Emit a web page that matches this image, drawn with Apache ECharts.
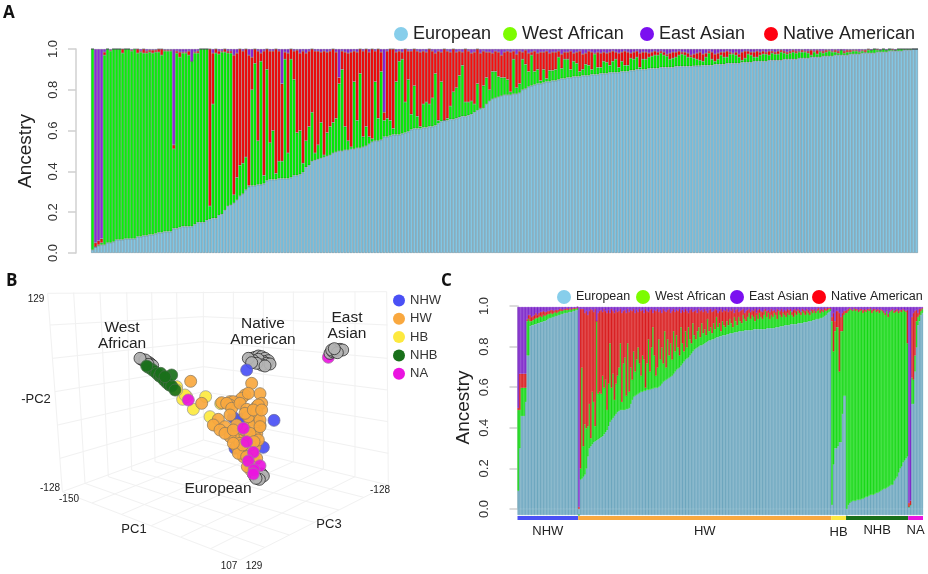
<!DOCTYPE html>
<html><head><meta charset="utf-8">
<style>html,body{margin:0;padding:0;background:#fff}#c{width:928px;height:574px}</style>
<script src="https://cdn.jsdelivr.net/npm/echarts@6/dist/echarts.min.js"></script>
</head><body><div id="c"></div>
<script>
// Panel A: top edge of each stacked band, per individual
const euroA=[.015,.03,.035,.04,.04,.05,.05,.055,.065,.065,.065,.07,.07,.07,.07,.08,.08,.085,.085,.09,.09,.095,.10,.10,.105,
.105,.105,.12,.12,.125,.13,.13,.13,.13,.14,.15,.15,.15,.16,.165,.17,.17,.185,.19,.21,.23,.235,.245,.26,.28,
.29,.31,.325,.33,.33,.335,.335,.34,.355,.36,.36,.36,.365,.365,.365,.365,.37,.38,.38,.385,.395,.42,.43,.45,.455,
.46,.465,.47,.475,.48,.49,.495,.50,.50,.505,.505,.51,.51,.515,.515,.52,.525,.535,.545,.55,.55,.555,.57,.57,.575,
.58,.58,.58,.585,.59,.595,.605,.61,.61,.61,.615,.615,.62,.62,.625,.635,.645,.65,.65,.655,.655,.66,.665,.67,.67,
.675,.68,.69,.70,.705,.71,.73,.745,.755,.76,.765,.77,.775,.775,.775,.78,.78,.785,.80,.805,.815,.82,.825,.83,.83,
.835,.84,.84,.845,.845,.85,.855,.855,.86,.86,.865,.865,.865,.87,.87,.87,.875,.875,.875,.88,.88,.88,.885,.885,.885,
.885,.89,.89,.89,.895,.895,.90,.90,.90,.90,.905,.905,.905,.905,.91,.91,.91,.91,.91,.915,.915,.915,.915,.915,.915,
.917,.918,.918,.92,.92,.92,.92,.925,.925,.925,.925,.93,.93,.93,.93,.93,.935,.935,.935,.935,.94,.94,.94,.94,.94,
.945,.945,.945,.945,.945,.95,.95,.95,.95,.95,.955,.955,.955,.955,.96,.96,.96,.96,.965,.965,.965,.965,.97,.97,.97,
.97,.97,.975,.975,.975,.975,.98,.98,.98,.98,.98,.985,.985,.985,.985,.99,.99,.99,.99,.99,.995,.995,.995,1,1];
const westTopA=[1,.03,.04,.05,.97,1,.99,1,1,1,.98,1,1,.99,1,.98,.985,.98,.98,.985,.98,.985,.985,.97,.99,
.99,.99,.51,.98,.96,.98,.98,.97,.94,.98,.98,1,1,1,.23,.73,.98,.975,.985,.985,.98,.98,.285,.37,.43,
.44,.47,.33,.80,.93,.55,.94,.38,.90,.54,.60,.39,.45,.45,.95,.49,.95,.85,.59,.60,.44,.55,.62,.69,.49,
.53,.64,.48,.59,.62,.64,.66,.83,.90,.62,.55,.52,.84,.65,.88,.57,.62,.57,.56,.84,.66,.89,.65,.66,.65,
.61,.84,.94,.95,.74,.85,.68,.82,.67,.62,.73,.74,.73,.76,.88,.65,.84,.65,.66,.72,.79,.81,.87,.92,.74,
.74,.745,.73,.83,.71,.82,.86,.80,.89,.89,.865,.86,.86,.85,.79,.95,.81,.83,.95,.925,.89,.97,.89,.90,.845,
.90,.855,.895,.895,.90,.96,.905,.95,.95,.90,.94,.93,.89,.90,.925,.92,.90,.975,.91,.91,.94,.935,.92,.94,.95,
.91,.94,.92,.92,.955,.95,.96,.91,.95,.95,.96,.965,.97,.97,.98,.97,.965,.95,.955,.96,.97,.975,.97,.96,.96,
.955,.95,.945,.94,.96,.98,.95,.94,.95,.97,.96,.96,.975,.975,.97,.96,.945,.955,.975,.97,.96,.96,.97,.975,.975,
.97,.98,.975,.975,.985,.98,.975,.98,.985,.98,.985,.985,.985,.98,.97,.985,.975,.985,.98,.985,.99,.985,.985,.98,.995,
.98,.985,.985,.99,.99,.985,.99,.985,.995,.995,1,.995,.995,1,.995,1,.995,.995,1,1,1,1,1,1,1];
const nativeTopA=[1,.05,.06,.07,.985,1,.995,1,1,1,1,1,1,.995,.99,1,.99,1,.99,.995,.995,.995,1,1,.995,
.995,.995,.53,.99,.985,.985,.985,.99,.94,.985,.99,1,1,1,1,.98,1,.99,.99,1,.99,.99,.97,.98,1,
.99,1,.97,.96,1,.99,.98,.99,1,.99,.99,1,.99,.83,.985,.98,1,.99,.995,.98,.99,.98,.99,1,.99,
.99,.985,.99,.985,.99,1,.985,.86,.99,.985,.98,.985,.99,.985,1,.99,1,.985,1,.99,1,.985,.69,.99,1,
1,.985,.99,.985,1,.99,.99,1,.99,.985,.99,.985,1,.99,.98,.99,.985,1,.99,.985,1,.985,.99,.985,1,
.99,.98,.985,1,.98,.99,.985,.985,.98,.99,.985,.97,.985,.99,.985,.99,.975,.99,.985,.995,.98,.985,.99,.98,.985,
.985,.99,.98,.985,.985,.99,.975,.985,.985,.99,.98,.985,.99,.975,.98,.99,.985,.98,.985,.98,.985,.98,.985,.99,.985,
.98,.985,.99,.985,.98,.985,.99,.98,.985,.985,.98,.985,.99,.985,.99,.985,.975,.98,.985,.985,.99,.985,.985,.98,.97,
.975,.98,.985,.975,.98,.99,.985,.975,.98,.985,.985,.99,.985,.98,.985,.975,.985,.99,.99,.985,.985,.99,.985,.99,.985,
.99,.99,.985,.99,.995,.99,.985,.99,.995,.99,.99,.995,.99,.99,.995,.99,.995,.99,.99,.995,.995,.99,.995,.99,.995,
.99,.995,.995,.995,.995,.99,.995,.995,1,.995,1,1,.995,1,.995,1,1,.995,1,1,1,1,1,1,1];

// Panel C: same kind of reading, in the groups NHW, HW, HB, NHB, NA
const euroC=[.09,.30,.46,.46,.46,.53,.76,.76,.905,.91,.91,.915,.915,.92,.92,.925,.925,.93,.93,.935,.94,.945,.945,.95,.95,.955,.955,.96,.96,.965,.965,.97,.97,.97,.975,.975,.975,.98,.98,.985,.985,
0,.145,.15,.16,.17,.20,.26,.30,.31,.32,
.33,.335,.34,.345,.35,.355,.36,.37,.38,.39,
.41,.43,.44,.45,.46,.47,.48,.485,.49,.49,
.49,.49,.495,.495,.50,.52,.54,.555,.56,.565,
.57,.575,.58,.58,.585,.585,.59,.59,.59,.595,
.595,.60,.60,.60,.605,.61,.62,.63,.635,.64,
.645,.65,.655,.66,.67,.68,.69,.695,.70,.71,
.72,.73,.74,.745,.75,.76,.77,.78,.79,.795,
.80,.805,.81,.81,.815,.82,.825,.83,.835,.835,
.84,.84,.845,.85,.85,.855,.855,.86,.86,.86,
.865,.865,.87,.87,.87,.875,.875,.875,.88,.88,
.88,.88,.885,.885,.885,.885,.885,.885,.89,.89,
.89,.89,.89,.89,.89,.89,.89,.895,.895,.895,
.895,.895,.895,.90,.90,.90,.905,.905,.905,.91,
.91,.91,.91,.915,.915,.915,.915,.915,.92,.92,
.92,.92,.925,.925,.925,.93,.93,.93,.935,.935,
.94,.94,.94,.945,.945,.95,.955,.96,.97,.975,.98,
.02,.22,.30,.30,.31,.33,.33,.47,.56,.56,
0,.02,.03,.035,.04,.04,.04,.045,.045,.045,.05,.05,.055,.06,.06,.065,.07,.07,.07,.075,.08,.08,.085,.09,.095,.10,.10,.105,.11,.115,.12,.12,.14,.15,.16,.18,.20,.21,.23,.24,.25,.26,
.01,.02,.52,.52,.68,.80,.91,.93,.96,.97];
const westTopC=[.49,.49,.60,.60,.60,.60,.93,.94,.93,.93,.935,.94,.945,.945,.95,.955,.95,.96,.955,.96,.965,.965,.97,.965,.97,.975,.97,.975,.98,.98,.98,.985,.985,.985,.985,.99,.985,.99,.99,.99,.995,
0,.20,.70,.31,.42,.40,.41,.52,.35,.58,
.53,.41,.93,.57,.58,.57,.66,.60,.64,.49,
.62,.82,.60,.67,.54,.62,.66,.70,.82,.53,
.72,.75,.56,.82,.58,.70,.64,.78,.68,.74,
.80,.72,.66,.76,.74,.60,.72,.84,.68,.80,
.90,.76,.66,.70,.84,.74,.80,.72,.88,.70,
.84,.76,.82,.74,.88,.78,.86,.80,.76,.90,
.82,.78,.88,.80,.90,.84,.82,.92,.86,.84,
.88,.90,.85,.92,.87,.89,.86,.94,.88,.90,
.87,.92,.89,.95,.90,.92,.88,.93,.91,.90,
.93,.91,.94,.92,.90,.95,.93,.91,.95,.93,
.92,.96,.94,.93,.95,.97,.94,.96,.95,.93,
.96,.94,.97,.95,.94,.96,.98,.95,.97,.94,
.96,.95,.97,.96,.94,.98,.96,.95,.97,.96,
.95,.97,.96,.98,.96,.95,.97,.96,.98,.97,
.96,.98,.97,.96,.98,.97,.96,.98,.97,.98,
.97,.98,.985,.97,.98,.975,.985,.98,.985,.99,.99,
.93,.78,.88,.90,.90,.68,.88,.88,.96,.97,
.97,.98,.99,.985,.98,.99,.98,.985,.975,.98,.985,.97,.98,.975,.985,.98,.99,.97,.98,.985,.975,.98,.97,.985,.98,.97,.96,.98,.95,.975,.98,.985,.97,.975,.98,.97,.98,.975,.985,.98,.975,.82,
.01,.02,.65,.64,.76,.93,.95,.96,.98,.99];
const nativeTopC=[.50,.67,.67,.67,.67,.67,.94,.96,.96,.95,.955,.96,.97,.96,.97,.975,.975,.98,.975,.975,.98,.98,.985,.985,.98,.985,.985,.985,.99,.99,.985,.99,.99,.995,.99,.995,.99,.995,.995,.995,1,
.01,.99,.99,.99,.97,.98,.96,.98,.99,.985,
.975,.99,.93,.97,.98,.985,.975,.99,.98,.97,
.985,.97,.99,.98,.97,.985,.975,.98,.99,.97,
.98,.985,.97,.99,.975,.985,.98,.99,.97,.985,
.975,.99,.98,.985,.97,.99,.98,.975,.985,.99,
.97,.985,.98,.99,.975,.985,.97,.99,.98,.975,
.985,.99,.97,.98,.99,.975,.985,.98,.99,.97,
.985,.975,.99,.98,.97,.985,.99,.975,.98,.985,
.97,.99,.98,.985,.975,.99,.98,.97,.985,.99,
.975,.98,.99,.985,.97,.98,.99,.975,.985,.98,
.99,.975,.985,.98,.99,.97,.985,.99,.975,.98,
.985,.99,.97,.98,.985,.99,.975,.985,.98,.99,
.97,.985,.99,.98,.975,.985,.99,.98,.985,.975,
.99,.98,.985,.975,.99,.985,.98,.99,.975,.985,
.98,.99,.985,.99,.975,.985,.99,.98,.99,.985,
.975,.99,.985,.98,.99,.985,.975,.99,.985,.99,
.98,.99,.995,.985,.99,.985,.995,.99,.995,.995,.995,
.95,.97,.93,.98,.98,.97,.95,.97,.98,.98,
.985,.99,.995,.99,.985,.995,.99,.99,.985,.99,.99,.985,.99,.985,.99,.99,.995,.985,.99,.99,.985,.99,.985,.99,.985,.98,.97,.985,.965,.98,.985,.99,.98,.985,.99,.98,.985,.985,.99,.985,.98,.985,
.03,.04,.95,.97,.98,.985,.97,.99,.99,.995];
const groupNames=['NHW','HW','HB','NHB','NA'];
const groupSizes=[41,171,10,42,10];
const groupColors=['#4a50f5','#f9a83f','#fde93f','#19701a','#ea14e0'];

// Panel B: PCA points as projected on the picture plane
const pcNHW=[[740,300],[822,451],[712,396],[700,442],[712,452],[705,535],[790,532],[730,445]];
const pcHW=[[572,334],[755,340],[780,371],[605,400],[690,395],[665,398],[735,375],[725,385],[745,370],[700,395],[690,405],[680,400],[695,415],[720,400],[740,418],[770,410],[785,400],[775,405],[690,435],[655,448],[640,465],[675,470],[690,490],[660,480],[710,480],[720,500],[750,450],[770,450],[780,465],[760,470],[770,490],[745,440],[735,430],[770,425],[760,420],[780,450],[765,500],[740,495],[710,530],[725,540],[735,545],[715,510],[745,510],[765,530],[700,500],[735,480],[750,490],[760,560],[745,575],[770,565],[755,590],[730,560],[720,520],[745,530],[755,545],[780,470],[710,465],[690,500],[675,490],[700,480],[715,550],[740,560],[775,510],[750,525],[762,515],[728,525],[700,520],[785,420],[752,600],[742,590]];
const pcHB=[[530,350],[548,388],[560,380],[580,418],[617,380],[662,401],[630,440],[645,465],[555,375],[530,360]];
const pcNHB=[[445,292],[455,298],[462,303],[470,310],[478,318],[485,322],[492,330],[500,338],[508,345],[515,348],[525,360],[515,315],[440,288],[482,310],[495,320]];
const pcNA=[[985,262],[565,390],[730,475],[740,515],[760,547],[745,573],[780,587],[762,600],[760,612]];
const pcReference=[[425,268],[432,272],[440,275],[447,278],[452,282],[458,287],[436,270],[444,283],[420,265],
[755,265],[765,262],[775,258],[785,260],[795,265],[805,272],[790,275],[775,268],[760,272],[800,280],[785,285],[770,280],[745,265],[810,282],[795,288],[755,278],
[990,250],[998,245],[1005,243],[1012,240],[1020,238],[1028,240],[995,240],[1012,248],[1003,236],
[765,620],[775,615],[785,612],[780,622],[770,610],[790,618],[760,612],[778,628],[768,625]];
const boxLines=[[143,70,187,665],[143,70,1160,65],[187,665,720,870],[720,870,1165,645],[1160,65,1165,645],[610,65,610,510],[187,665,610,510],[610,510,1165,645],
[221,68,255,640],[300,67,325,620],[380,67,395,600],[455,66,465,575],[530,66,535,540],
[150,165,610,140],[158,265,610,215],[165,365,610,290],[173,465,610,365],[180,565,610,440],
[700,65,700,530],[790,65,790,550],[880,65,880,575],[970,65,970,597],[1065,65,1065,620],
[610,140,1162,165],[610,215,1162,265],[610,290,1163,360],[610,365,1164,455],[610,440,1165,550],
[276,699,700,530],[365,733,790,550],[454,767,880,575],[543,801,970,597],[632,836,1065,620],
[255,640,794,832],[325,620,868,795],[395,600,943,757],[465,575,1017,720],[535,540,1091,682]];

const FONT='"Liberation Sans",Arial,sans-serif';
const bands=['European','West African','Native American','East Asian'];
const legendColors={'European':'#87ceeb','West African':'#7cfc00','East Asian':'#7b10f0','Native American':'#ff0010'};
const sub=(a,b)=>a.map((v,i)=>Math.max(0,+(v-b[i]).toFixed(3)));
function segments(eu,we,na){return [eu,sub(we,eu),sub(na,we),na.map(v=>+(1-v).toFixed(3))];}

const segA=segments(euroA,westTopA,nativeTopA), segC=segments(euroC,westTopC,nativeTopC);
const colA=['#82c6e4','#06f406','#f80c0c','#8e28dc'], colC=['#6ca6bf','#14d814','#d81a1c','#7a22c8'];
const series=[];
bands.forEach((n,k)=>series.push({name:n,type:'bar',stack:'a',xAxisIndex:0,yAxisIndex:0,barCategoryGap:0,data:segA[k],
  itemStyle:{color:colA[k],borderColor:'rgba(15,30,35,.36)',borderWidth:.6},silent:true}));
series.push({name:'baseline',type:'bar',stack:'c',xAxisIndex:1,yAxisIndex:1,barCategoryGap:0,data:euroC.map(()=>-0.03),itemStyle:{color:colC[0],borderColor:colC[0],borderWidth:.5},silent:true});
bands.forEach((n,k)=>series.push({name:n,type:'bar',stack:'c',xAxisIndex:1,yAxisIndex:1,barCategoryGap:0,data:segC[k],
  itemStyle:{color:colC[k],borderColor:colC[k],borderWidth:.5},silent:true}));
const labelDist=[5,5,6,4,4];
groupNames.forEach((n,k)=>series.push({name:n,type:'bar',stack:'g',xAxisIndex:3,yAxisIndex:3,barWidth:4,data:[groupSizes[k]],
  itemStyle:{color:groupColors[k]},silent:true,
  label:{show:true,position:'bottom',distance:labelDist[k],formatter:n,fontFamily:FONT,fontSize:13,color:'#222'}}));
series.push({type:'custom',name:'box',xAxisIndex:4,yAxisIndex:4,silent:true,z:1,data:boxLines,
  encode:{x:[0,2],y:[1,3]},
  renderItem:(p,api)=>{const a=api.coord([api.value(0),api.value(1)]),b=api.coord([api.value(2),api.value(3)]);
    return {type:'line',shape:{x1:a[0],y1:a[1],x2:b[0],y2:b[1]},style:{stroke:'#f1f1f1',lineWidth:1}};}});
const scat=(name,data,color,border,z)=>({name,type:'scatter',xAxisIndex:4,yAxisIndex:4,data,symbolSize:12,z,silent:true,
  itemStyle:{color,borderColor:border,borderWidth:.8,opacity:.92}});
series.push(scat('NA',pcNA.slice(0,1),groupColors[4],'#a080a0',2));
series.push(scat('Reference',pcReference,'#b4b4b4','#222',3));
series.push(scat('HB',pcHB,groupColors[2],'#999',4));
series.push(scat('NHB',pcNHB,groupColors[3],'#4a6a4a',5));
series.push(scat('NHW',pcNHW,groupColors[0],'#6a6a9a',6));
series.push(scat('HW',pcHW,groupColors[1],'#8a7a60',7));
series.push(scat('NA',pcNA.slice(1),groupColors[4],'#a080a0',8));

const tickAxis=(gridIndex,offset,margin,nameGap)=>({type:'value',gridIndex,min:0,max:1,interval:.2,offset,
  axisLine:{show:true,lineStyle:{color:'#d0d0d0',width:1.5}},axisTick:{show:true,length:8,lineStyle:{color:'#d0d0d0',width:1.5}},
  splitLine:{show:false},
  axisLabel:{rotate:90,margin,fontFamily:FONT,fontSize:13,color:'#333',formatter:v=>v.toFixed(1),hideOverlap:false},
  name:'Ancestry',nameLocation:'middle',nameRotate:90,nameGap,nameTextStyle:{fontFamily:FONT,fontSize:19,color:'#222'}});
const hiddenCat=(gridIndex,data)=>({type:'category',gridIndex,data,show:false});
const legendItem=(n,c)=>({name:n,icon:'circle',itemStyle:{color:c,borderWidth:0}});
const one=(n,left,top,size,w)=>({left,top,itemWidth:w,itemHeight:w,selectedMode:false,padding:0,width:300,
  textStyle:{fontFamily:FONT,fontSize:size,color:'#222'},data:[legendItem(n,legendColors[n])]});
const grid=(left,top,width,height)=>({left,top,width,height,outerBoundsMode:'none'});

const option={animation:false,backgroundColor:'#fff',
 grid:[grid(91,49,827,204),grid(517.5,307,405.5,208),grid(517.5,306,405.5,203),grid(517.5,516,405.5,4),grid(0,270,440,304)],
 xAxis:[hiddenCat(0,euroA.map((_,i)=>i)),hiddenCat(1,euroC.map((_,i)=>i)),{type:'value',gridIndex:2,show:false,min:0,max:1},
   {type:'value',gridIndex:3,show:false,min:0,max:groupSizes.reduce((a,b)=>a+b,0)},{type:'value',gridIndex:4,show:false,min:0,max:1320}],
 yAxis:[tickAxis(0,15,16,41),{type:'value',gridIndex:1,show:false,min:-.03,max:1},tickAxis(2,8,19,36),
   hiddenCat(3,['group']),{type:'value',gridIndex:4,show:false,min:0,max:912,inverse:true}],
 legend:[
  one('European',394,25,18,14),one('West African',503,25,18,14),one('East Asian',640,25,18,14),one('Native American',764,25,18,14),
  one('European',557,290,12.5,14),one('West African',636,290,12.5,14),one('East Asian',730,290,12.5,14),one('Native American',812,290,12.5,14),
  {left:393,top:294,padding:0,orient:'vertical',itemWidth:12,itemHeight:12,itemGap:5.3,selectedMode:false,textStyle:{fontFamily:FONT,fontSize:13,color:'#333'},
   data:groupNames.map((n,k)=>legendItem(n,groupColors[k]))}],
 series,
 graphic:[
  ...[['A',3,5],['B',6,273],['C',441,273]].map(([t,x,y])=>({type:'text',left:x,top:y,style:{text:t,font:'bold 17px "Open Sans",sans-serif',fill:'#111'}})),
  ...[['West\nAfrican',122,336,15.5],['Native\nAmerican',263,332,15.5],['East\nAsian',347,326,15.5],['European',218,489,15.5],
      ['129',36,299,10],['-128',50,488,10],['-150',69,499,10],['107',229,566,10],['129',254,566,10],['-128',380,490,10],
      ['-PC2',36,399,13],['PC1',134,529,13],['PC3',329,524,13]].map(([t,x,y,s])=>({type:'text',z:20,
        x,y,style:{text:t,align:'center',verticalAlign:'middle',lineHeight:s>15?16:s+2,font:s+'px '+FONT,fill:'#222'}}))
 ]};
const chart=echarts.init(document.getElementById('c'),null,{renderer:'canvas'});
chart.setOption(option);
</script></body></html>
